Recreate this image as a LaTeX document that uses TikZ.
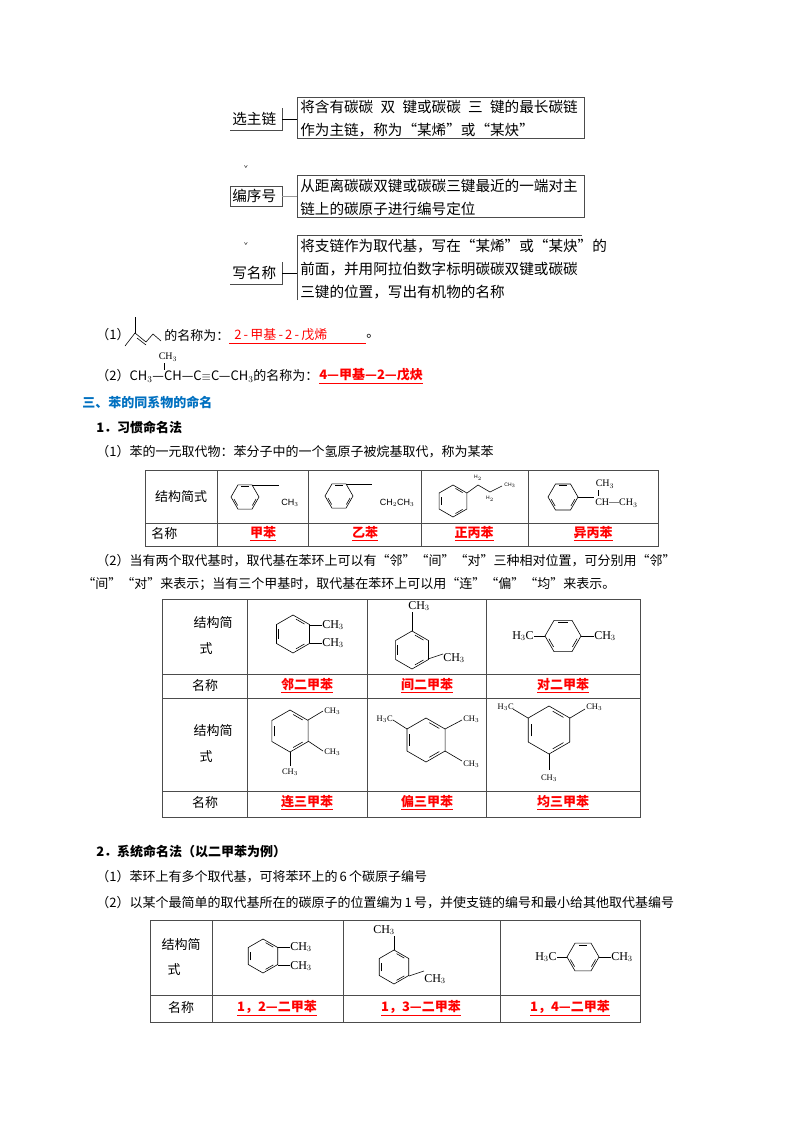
\documentclass[tikz,border=0pt]{standalone}
\usepackage{fontspec}
\setmainfont{Noto Sans CJK SC}
\newfontfamily\ser{Liberation Serif}
\newfontfamily\lsans{Liberation Sans}
\definecolor{hblue}{RGB}{0,112,192}
\definecolor{ared}{RGB}{255,0,0}
\newcommand\bz[4]{\begin{scope}[shift={(#1,#2)}]
 \draw (#4:#3)--(#4+60:#3)--(#4+120:#3)--(#4+180:#3)--(#4+240:#3)--(#4+300:#3)--cycle;
 \foreach \k in {0,120,240}{\draw (#4+\k+11:{0.8*#3})--(#4+\k+49:{0.8*#3});}
 \end{scope}}
\newcommand\ans[1]{\underline{\textbf{#1}}}
\begin{document}
\begin{tikzpicture}[x=1pt,y=-1pt,line width=0.6pt,
 t/.style={anchor=west,inner sep=0,font=\fontsize{13}{15}\selectfont},
 tb/.style={anchor=west,inner sep=0,font=\fontsize{14.6}{16}\selectfont},
 c/.style={anchor=center,inner sep=0,font=\fontsize{13}{15}\selectfont},
 an/.style={c,text=ared},
 fm/.style={inner sep=0,font=\ser\fontsize{12}{13}\selectfont},
 fs/.style={inner sep=0,font=\ser\fontsize{8.5}{9}\selectfont},
 bx/.style={draw=black!70,line width=0.8pt}]
\useasboundingbox (0,0) rectangle (800,1132);
% ---- flow
\node[tb] (l1) at (232,119) {选主链};
\draw[bx] (230,130)--(282,130)--(282,108);
\draw (282,119)--(297,119);
\draw[bx] (297,97) rectangle (584,138);
\node[tb] (b1a) at (300,107) {将含有碳碳\enspace 双\enspace 键或碳碳\enspace 三\enspace 键的最长碳链};
\node[tb] (b1b) at (300,130) {作为主链，称为“某烯”或“某炔”};
\node[c,font=\fontsize{7}{8}\selectfont] (m1) at (246,169) {ˇ};
\node[tb] (l2) at (232,196) {编序号};
\draw[bx] (230,186) rectangle (282,206);
\draw[black!40] (282,196)--(297,196);
\draw[bx] (297,175) rectangle (584,217);
\node[tb] (b2a) at (300,186) {从距离碳碳双键或碳碳三键最近的一端对主};
\node[tb] (b2b) at (300,209) {链上的碳原子进行编号定位};
\node[c,font=\fontsize{7}{8}\selectfont] (m2) at (246,246) {ˇ};
\node[tb] (l3) at (232,273) {写名称};
\draw[bx] (230,284)--(282,284)--(282,262);
\draw (282,273)--(297,273);
\draw[bx] (297,300)--(297,235)--(582,235);
\node[tb] (b3a) at (300,246) {将支链作为取代基，写在“某烯”或“某炔”的};
\node[tb] (b3b) at (300,269) {前面，并用阿拉伯数字标明碳碳双键或碳碳};
\node[tb] (b3c) at (300,292) {三键的位置，写出有机物的名称};
% ---- (1) (2)
\node[t] (q1) at (96,335) {（1）};
\draw (125,346)--(135,333)--(146,342)--(153,334)--(161,341);
\draw (135,333)--(135,317);
\draw (137,338)--(146,345);
\node[t] (q1b) at (164,336) {的名称为：};
\node[t,text=ared] (a1) at (234,335) {2\,-\,甲基\,-\,2\,-\,戊烯};
\draw[ared] (229,343)--(366,343);
\node[t] (q1c) at (366,336) {。};
\node[t] (q2) at (96,376) {（2）CH$_3$—CH—C$\equiv$C—CH$_3$的名称为：};
\node[c,font=\ser\fontsize{10}{11}\selectfont] (ch) at (168,357) {CH$_3$};
\draw (164,363)--(164,370);
\node[t,text=ared] (a2) at (319,376) {\ans{4—甲基—2—戊炔}};
\node[t,text=hblue] (h3) at (82,402) {\textbf{三、苯的同系物的命名}};
\node[t] (h31) at (96,427) {\textbf{1．习惯命名法}};
\node[t] (p1) at (96,452) {（1）苯的一元取代物：苯分子中的一个氢原子被烷基取代，称为某苯};
% ---- table 1
\draw[black!70] (145,470) rectangle (658,546);
\draw[black!70] (145,523)--(658,523);
\foreach \x in {217,308,421,528} \draw[black!70] (\x,470)--(\x,546);
\node[c] (t1a) at (181,497) {结构简式};
\node[t] (t1b) at (151,534) {名称};
\bz{245}{497}{14}{0}
\draw (252,485)--(279,485);
\node[fs,font=\lsans\fontsize{9}{10}\selectfont] (tm) at (290,503) {CH$_3$};
\bz{339}{496}{14}{0}
\draw (346,484)--(372,484);
\node[fs,font=\lsans\fontsize{9}{10}\selectfont] (eb) at (397,503) {CH$_2$CH$_3$};
\bz{453}{501}{16}{30}
\draw (467,493)--(478,485)--(490,492)--(502,486);
\node[fs,font=\lsans\fontsize{5}{6}\selectfont] at (478,478) {H$_2$};
\node[fs,font=\lsans\fontsize{5}{6}\selectfont] at (490,499) {H$_2$};
\node[fs,font=\lsans\fontsize{5}{6}\selectfont] at (510,485) {CH$_3$};
\bz{563}{497}{15}{0}
\draw (578,497)--(594,497);
\node[fs,font=\ser\fontsize{10}{11}\selectfont] (ip1) at (605,484) {CH$_3$};
\draw (598,490)--(598,496);
\node[fs,font=\ser\fontsize{10}{11}\selectfont,anchor=west] (ip2) at (595,503) {CH—CH$_3$};
\node[an] at (263,534) {\ans{甲苯}};
\node[an] at (365,534) {\ans{乙苯}};
\node[an] at (474,534) {\ans{正丙苯}};
\node[an] at (593,534) {\ans{异丙苯}};
\node[t] (p2) at (96,561) {（2）当有两个取代基时，取代基在苯环上可以有“邻”“间”“对”三种相对位置，可分别用“邻”};
\node[t] (p2b) at (82,584) {“间”“对”来表示；当有三个甲基时，取代基在苯环上可以用“连”“偏”“均”来表示。};
% ---- table 2
\draw[black!70] (162,599) rectangle (640,817);
\foreach \y in {674,698,791} \draw[black!70] (162,\y)--(640,\y);
\foreach \x in {247,367,486} \draw[black!70] (\x,599)--(\x,817);
\node[c] at (213,623) {结构简}; \node[c] at (206,649) {式};
\node[c] at (205,686) {名称};
\node[c] at (213,731) {结构简}; \node[c] at (206,757) {式};
\node[c] at (205,803) {名称};
\bz{293}{634}{19}{30}
\draw (310,625)--(322,625); \node[fm,anchor=west] at (322,625) {CH$_3$};
\draw (310,643)--(322,643); \node[fm,anchor=west] at (322,643) {CH$_3$};
\bz{412}{650}{19}{30}
\draw (412,631)--(412,612); \node[fm] at (419,606) {CH$_3$};
\draw (428,659)--(443,654); \node[fm,anchor=west] at (443,658) {CH$_3$};
\bz{563}{636}{18}{0}
\draw (545,636)--(534,636); \node[fm,anchor=east] at (534,636) {H$_3$C};
\draw (581,636)--(594,636); \node[fm,anchor=west] at (594,636) {CH$_3$};
\node[an] at (307,686) {\ans{邻二甲苯}};
\node[an] at (427,686) {\ans{间二甲苯}};
\node[an] at (563,686) {\ans{对二甲苯}};
\bz{290}{731}{21}{30}
\draw (308,720)--(323,711); \node[fs,anchor=west] at (324,711) {CH$_3$};
\draw (308,741)--(323,751); \node[fs,anchor=west] at (324,752) {CH$_3$};
\draw (290,752)--(290,766); \node[fs] at (290,772) {CH$_3$};
\bz{426}{740}{22}{30}
\draw (407,729)--(393,720); \node[fs,anchor=east] at (393,719) {H$_3$C};
\draw (445,729)--(462,720); \node[fs,anchor=west] at (463,719) {CH$_3$};
\draw (445,751)--(462,761); \node[fs,anchor=west] at (463,764) {CH$_3$};
\bz{549}{730}{24}{30}
\draw (528,718)--(513,709); \node[fs,anchor=east] at (514,707) {H$_3$C};
\draw (570,718)--(585,709); \node[fs,anchor=west] at (586,707) {CH$_3$};
\draw (549,754)--(549,770); \node[fs] at (549,778) {CH$_3$};
\node[an] at (307,803) {\ans{连三甲苯}};
\node[an] at (427,803) {\ans{偏三甲苯}};
\node[an] at (563,803) {\ans{均三甲苯}};
% ---- section 2
\node[t] (h32) at (96,851) {\textbf{2．系统命名法（以二甲苯为例）}};
\node[t] (p3) at (96,877) {（1）苯环上有多个取代基，可将苯环上的\,6\,个碳原子编号};
\node[t] (p4) at (96,903) {（2）以某个最简单的取代基所在的碳原子的位置编为\,1\,号，并使支链的编号和最小给其他取代基编号};
% ---- table 3
\draw[black!70] (150,920) rectangle (640,1022);
\draw[black!70] (150,995)--(640,995);
\foreach \x in {212,343,500} \draw[black!70] (\x,920)--(\x,1022);
\node[c] at (181,945) {结构简}; \node[c] at (174,970) {式};
\node[c] at (181,1008) {名称};
\bz{263}{956}{17}{30}
\draw (278,947)--(290,947); \node[fm,anchor=west] at (290,947) {CH$_3$};
\draw (278,965)--(290,965); \node[fm,anchor=west] at (290,966) {CH$_3$};
\bz{394}{967}{17}{30}
\draw (394,950)--(394,936); \node[fm] at (384,930) {CH$_3$};
\draw (409,976)--(424,971); \node[fm,anchor=west] at (424,979) {CH$_3$};
\bz{583}{957}{16}{0}
\draw (567,957)--(557,957); \node[fm,anchor=east] at (557,957) {H$_3$C};
\draw (599,957)--(611,957); \node[fm,anchor=west] at (611,957) {CH$_3$};
\node[an] at (277,1008) {\ans{1，2—二甲苯}};
\node[an] at (421,1008) {\ans{1，3—二甲苯}};
\node[an] at (570,1008) {\ans{1，4—二甲苯}};
\end{tikzpicture}
\end{document}
